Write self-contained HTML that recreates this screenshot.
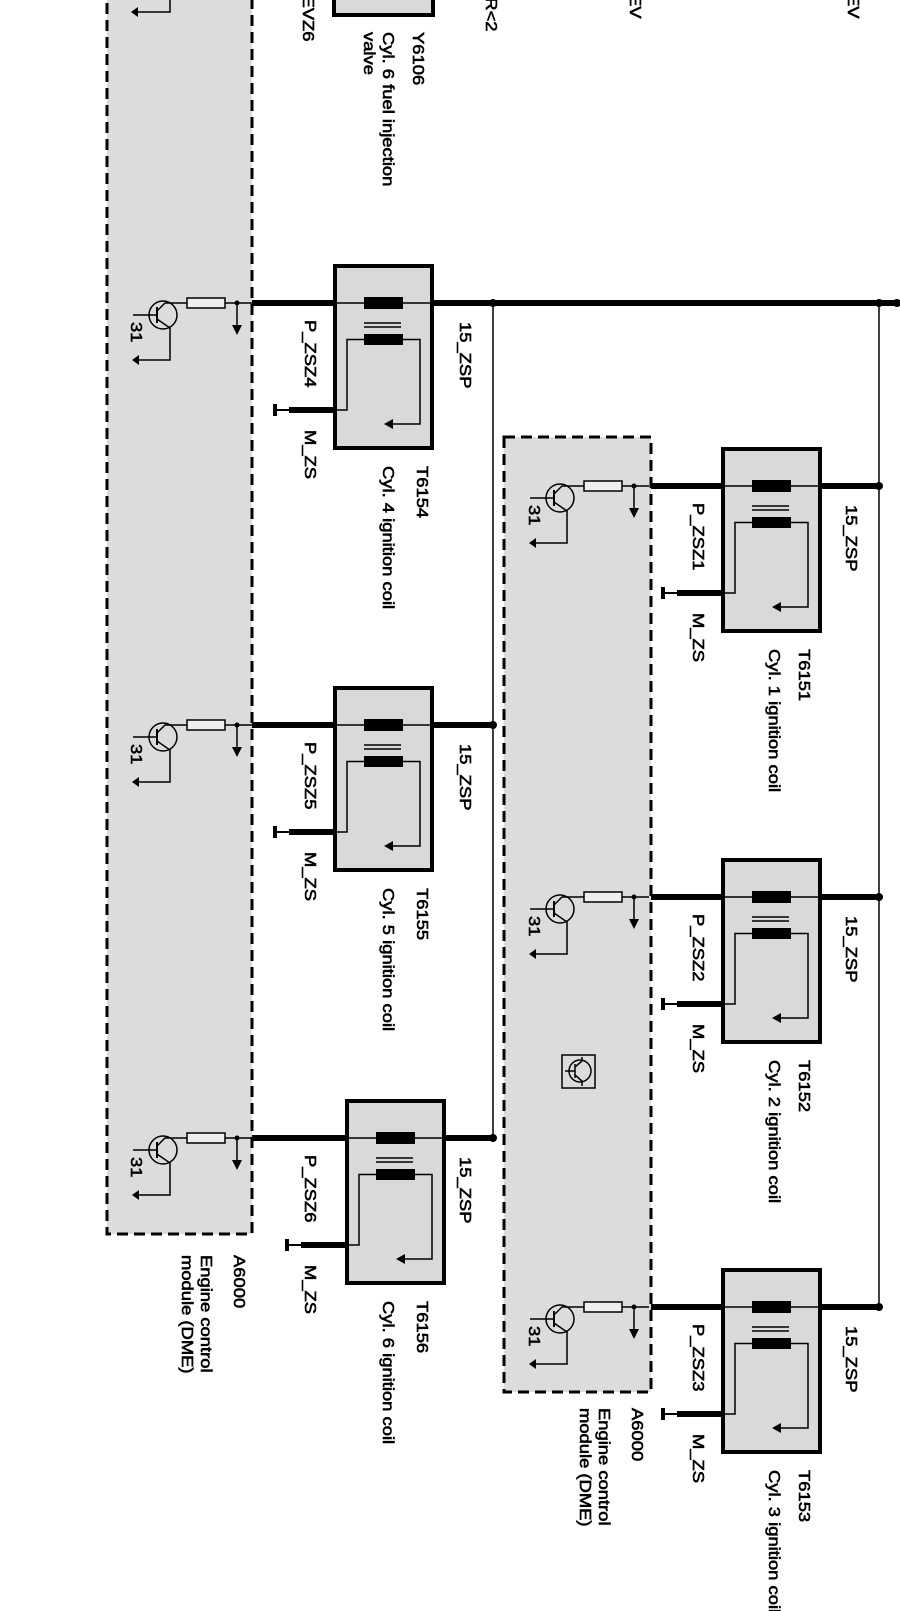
<!DOCTYPE html>
<html><head><meta charset="utf-8"><style>
html,body{margin:0;padding:0;background:#fff;}
svg{display:block;}
text{font-family:"Liberation Sans",Arial,sans-serif;font-size:16px;fill:#000;stroke:#000;stroke-width:0.6;}
</style></head><body>
<svg width="900" height="1611" viewBox="0 0 900 1611" xmlns="http://www.w3.org/2000/svg">
<defs>
<g id="coil">
  <rect x="0" y="0" width="97" height="182" fill="#d9d9d9" stroke="#000" stroke-width="4"/>
  <line x1="0" y1="37" x2="97" y2="37" stroke="#000" stroke-width="1.5"/>
  <rect x="29" y="31" width="39" height="12" fill="#000"/>
  <line x1="29" y1="57" x2="66" y2="57" stroke="#000" stroke-width="1.5"/>
  <line x1="29" y1="61" x2="66" y2="61" stroke="#000" stroke-width="1.5"/>
  <rect x="29" y="68" width="39" height="11" fill="#000"/>
  <polyline points="29,73.5 12,73.5 12,144 0,144" fill="none" stroke="#000" stroke-width="1.5"/>
  <polyline points="68,73.5 85,73.5 85,158 56,158" fill="none" stroke="#000" stroke-width="1.5"/>
  <polygon points="49,158 58,153 58,163" fill="#000"/>
  <line x1="0" y1="144" x2="-46" y2="144" stroke="#000" stroke-width="6"/>
  <rect x="-62" y="138" width="4" height="12" fill="#000"/>
  <line x1="-60" y1="144" x2="-46" y2="144" stroke="#000" stroke-width="2"/>
</g>
<g id="tr">
  <circle cx="56" cy="12" r="14" fill="none" stroke="#000" stroke-width="1.5"/>
  <line x1="26" y1="12" x2="50" y2="12" stroke="#000" stroke-width="1.5"/>
  <line x1="50" y1="4" x2="50" y2="20" stroke="#000" stroke-width="2"/>
  <polyline points="50,8 58,0 80,0" fill="none" stroke="#000" stroke-width="1.5"/>
  <polyline points="50,16 63,25 63,57 32,57" fill="none" stroke="#000" stroke-width="1.5"/>
  <polygon points="25,57 32,52 32,62" fill="#000"/>
  <rect x="80" y="-5" width="38" height="10" fill="#eee" stroke="#000" stroke-width="1.5"/>
  <line x1="118" y1="0" x2="145" y2="0" stroke="#000" stroke-width="1.5"/>
  <circle cx="130" cy="0" r="2.5" fill="#000"/>
  <line x1="130" y1="0" x2="130" y2="24" stroke="#000" stroke-width="1.5"/>
  <polygon points="125,22 135,22 130,32" fill="#000"/>
</g>
</defs>

<rect x="107" y="-10" width="145" height="1244" fill="#dcdcdc" stroke="#000" stroke-width="3" stroke-dasharray="11,6"/>
<rect x="504" y="437" width="147" height="955" fill="#dcdcdc" stroke="#000" stroke-width="3" stroke-dasharray="11,6"/>

<polyline points="170,0 170,12 137,12" fill="none" stroke="#000" stroke-width="1.5"/>
<polygon points="131,12 138,7 138,17" fill="#000"/>
<rect x="334" y="-6" width="99" height="21" fill="#d9d9d9" stroke="#000" stroke-width="4"/>
<text transform="translate(303,-27) rotate(90) scale(1.15,1)">P_EVZ6</text>
<text transform="translate(413,32) rotate(90) scale(1.15,1)">Y6106</text>
<text transform="translate(383,32) rotate(90) scale(1.15,1)">Cyl. 6 fuel injection</text>
<text transform="translate(364,32) rotate(90) scale(1.15,1)">valve</text>
<text transform="translate(486,-16) rotate(90) scale(1.15,1)">HR&lt;2</text>
<text transform="translate(630,-6) rotate(90) scale(1.15,1)">EV</text>
<text transform="translate(848,-6) rotate(90) scale(1.15,1)">EV</text>

<line x1="493" y1="303" x2="493" y2="1138" stroke="#000" stroke-width="1.5"/>
<line x1="879" y1="303" x2="879" y2="1307" stroke="#000" stroke-width="1.5"/>

<line x1="252" y1="303" x2="900" y2="303" stroke="#000" stroke-width="6"/>
<line x1="252" y1="725" x2="493" y2="725" stroke="#000" stroke-width="6"/>
<line x1="252" y1="1138" x2="493" y2="1138" stroke="#000" stroke-width="6"/>
<line x1="651" y1="486" x2="879" y2="486" stroke="#000" stroke-width="6"/>
<line x1="651" y1="897" x2="879" y2="897" stroke="#000" stroke-width="6"/>
<line x1="651" y1="1307" x2="879" y2="1307" stroke="#000" stroke-width="6"/>

<g fill="#000">
<circle cx="493" cy="303" r="4"/><circle cx="879" cy="303" r="4"/><circle cx="897" cy="303" r="4"/>
<circle cx="493" cy="725" r="4"/><circle cx="493" cy="1138" r="4"/>
<circle cx="879" cy="486" r="4"/><circle cx="879" cy="897" r="4"/><circle cx="879" cy="1307" r="4"/>
</g>

<use href="#coil" transform="translate(335,266)"/>
<use href="#coil" transform="translate(335,688)"/>
<use href="#coil" transform="translate(347,1101)"/>
<use href="#coil" transform="translate(723,449)"/>
<use href="#coil" transform="translate(723,860)"/>
<use href="#coil" transform="translate(723,1270)"/>

<use href="#tr" transform="translate(107,303)"/>
<use href="#tr" transform="translate(107,725)"/>
<use href="#tr" transform="translate(107,1138)"/>
<use href="#tr" transform="translate(504,486)"/>
<use href="#tr" transform="translate(504,897)"/>
<use href="#tr" transform="translate(504,1307)"/>

<text transform="translate(131,322) rotate(90) scale(1.15,1)">31</text>
<text transform="translate(131,744) rotate(90) scale(1.15,1)">31</text>
<text transform="translate(131,1157) rotate(90) scale(1.15,1)">31</text>
<text transform="translate(529,505) rotate(90) scale(1.15,1)">31</text>
<text transform="translate(529,916) rotate(90) scale(1.15,1)">31</text>
<text transform="translate(529,1326) rotate(90) scale(1.15,1)">31</text>

<rect x="562" y="1055" width="33" height="33" fill="none" stroke="#000" stroke-width="1.5"/>
<circle cx="580" cy="1071" r="11" fill="none" stroke="#000" stroke-width="1.5"/>
<line x1="565" y1="1071" x2="575" y2="1071" stroke="#000" stroke-width="1.5"/>
<line x1="575" y1="1064" x2="575" y2="1078" stroke="#000" stroke-width="1.5"/>
<polyline points="575,1067 582,1061 582,1057" fill="none" stroke="#000" stroke-width="1.5"/>
<polyline points="575,1075 582,1081 582,1086" fill="none" stroke="#000" stroke-width="1.5"/>

<text transform="translate(460,322) rotate(90) scale(1.15,1)">15_ZSP</text>
<text transform="translate(305,320) rotate(90) scale(1.15,1)">P_ZSZ4</text>
<text transform="translate(305,430) rotate(90) scale(1.15,1)">M_ZS</text>
<text transform="translate(417,466) rotate(90) scale(1.15,1)">T6154</text>
<text transform="translate(383,466) rotate(90) scale(1.15,1)">Cyl. 4 ignition coil</text>

<text transform="translate(460,744) rotate(90) scale(1.15,1)">15_ZSP</text>
<text transform="translate(305,742) rotate(90) scale(1.15,1)">P_ZSZ5</text>
<text transform="translate(305,852) rotate(90) scale(1.15,1)">M_ZS</text>
<text transform="translate(417,888) rotate(90) scale(1.15,1)">T6155</text>
<text transform="translate(383,888) rotate(90) scale(1.15,1)">Cyl. 5 ignition coil</text>

<text transform="translate(460,1157) rotate(90) scale(1.15,1)">15_ZSP</text>
<text transform="translate(305,1155) rotate(90) scale(1.15,1)">P_ZSZ6</text>
<text transform="translate(305,1265) rotate(90) scale(1.15,1)">M_ZS</text>
<text transform="translate(417,1301) rotate(90) scale(1.15,1)">T6156</text>
<text transform="translate(383,1301) rotate(90) scale(1.15,1)">Cyl. 6 ignition coil</text>

<text transform="translate(234,1255) rotate(90) scale(1.15,1)">A6000</text>
<text transform="translate(201,1255) rotate(90) scale(1.15,1)">Engine control</text>
<text transform="translate(182,1255) rotate(90) scale(1.15,1)">module (DME)</text>

<text transform="translate(846,505) rotate(90) scale(1.15,1)">15_ZSP</text>
<text transform="translate(693,503) rotate(90) scale(1.15,1)">P_ZSZ1</text>
<text transform="translate(693,613) rotate(90) scale(1.15,1)">M_ZS</text>
<text transform="translate(799,649) rotate(90) scale(1.15,1)">T6151</text>
<text transform="translate(769,649) rotate(90) scale(1.15,1)">Cyl. 1 ignition coil</text>

<text transform="translate(846,916) rotate(90) scale(1.15,1)">15_ZSP</text>
<text transform="translate(693,914) rotate(90) scale(1.15,1)">P_ZSZ2</text>
<text transform="translate(693,1024) rotate(90) scale(1.15,1)">M_ZS</text>
<text transform="translate(799,1060) rotate(90) scale(1.15,1)">T6152</text>
<text transform="translate(769,1060) rotate(90) scale(1.15,1)">Cyl. 2 ignition coil</text>

<text transform="translate(846,1326) rotate(90) scale(1.15,1)">15_ZSP</text>
<text transform="translate(693,1324) rotate(90) scale(1.15,1)">P_ZSZ3</text>
<text transform="translate(693,1434) rotate(90) scale(1.15,1)">M_ZS</text>
<text transform="translate(799,1470) rotate(90) scale(1.15,1)">T6153</text>
<text transform="translate(769,1470) rotate(90) scale(1.15,1)">Cyl. 3 ignition coil</text>

<text transform="translate(632,1408) rotate(90) scale(1.15,1)">A6000</text>
<text transform="translate(599,1408) rotate(90) scale(1.15,1)">Engine control</text>
<text transform="translate(580,1408) rotate(90) scale(1.15,1)">module (DME)</text>
</svg>
</body></html>
